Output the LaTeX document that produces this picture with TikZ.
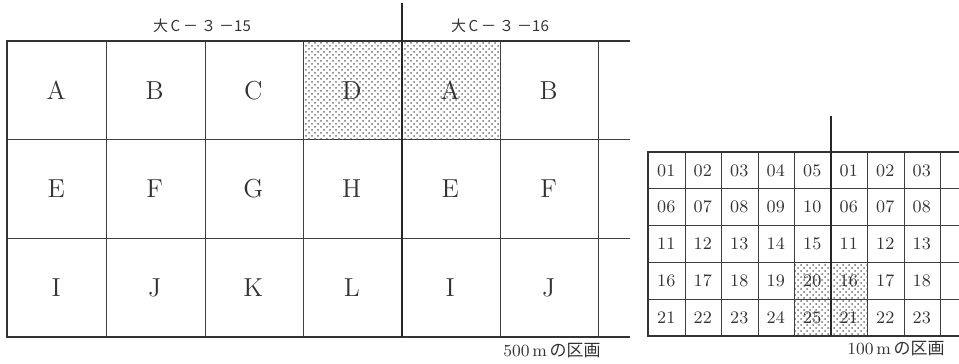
\documentclass[tikz,border=0pt]{standalone}
\usepackage{fontspec}
\newfontfamily\jpfont{Noto Sans CJK JP}
\usetikzlibrary{patterns}
\tikzset{
  cellline/.style={draw=black!75, line width=0.45pt},
  outline/.style={draw=black!80, line width=0.65pt},
  border/.style={draw=black!85, line width=1pt},
  shaded/.style={pattern=crosshatch dots, pattern color=black!55},
  bigcell/.style={font=\fontsize{13}{15}\selectfont, text=black!80},
  smallcell/.style={font=\fontsize{8.8}{10}\selectfont, text=black!80},
  blocktitle/.style={font=\jpfont\fontsize{7.5}{9}\selectfont, text=black!80},
  caption/.style={font=\fontsize{8.5}{10}\selectfont, text=black!80},
}

\begin{document}
\begin{tikzpicture}[x=0.5pt,y=-0.5pt]
  \useasboundingbox (0,0) rectangle (959,364);
  % 500m grid
  \fill[shaded] (303,41) rectangle (500,139);
  \foreach \y in {41,139,238,337}
    \draw[cellline] (7,\y) -- (630,\y);
  \foreach \x in {106,205,303,500,598}
    \draw[cellline] (\x,41) -- (\x,337);
  \draw[outline] (630,41) -- (7,41) -- (7,337) -- (630,337);
  \draw[border] (402,3) -- (402,337);
  \foreach \t [count=\i from 0] in {A,B,C,D,A,B,E,F,G,H,E,F,I,J,K,L,I,J} {
    \pgfmathtruncatemacro\c{mod(\i,6)}
    \pgfmathtruncatemacro\r{div(\i,6)}
    \node[bigcell] (big\i) at ({7+98.5*(\c+0.5)}, {41+98.7*(\r+0.5)}) {\t};
  }
  \node[blocktitle] (title15) at (202,26) {大\,C\hspace{0.2em}－\hspace{0.2em}３\hspace{0.2em}－15};
  \node[blocktitle] (title16) at (500,26) {大\,C\hspace{0.2em}－\hspace{0.2em}３\hspace{0.2em}－16};
  \node[caption] (cap500) at (552,351) {500\,m\,{\jpfont の区画}};

  % 100m grid
  \fill[shaded] (794.5,262.4) rectangle (867.5,336);
  \foreach \y in {152,188.8,225.6,262.4,299.2,336}
    \draw[cellline] (648,\y) -- (959,\y);
  \foreach \x in {685,721.5,758,794.5,867.5,904,940.5}
    \draw[cellline] (\x,152) -- (\x,336);
  \draw[outline] (959,152) -- (648,152) -- (648,336) -- (959,336);
  \draw[border] (831,116) -- (831,336);
  \foreach \r in {0,...,4} {
    \foreach \c in {0,...,7} {
      \ifnum\c<5
        \pgfmathtruncatemacro\n{5*\r+\c+1}
      \else
        \pgfmathtruncatemacro\n{5*\r+\c-4}
      \fi
      \node[smallcell] (small\r\c) at ({648+36.5*(\c+0.5)}, {152+36.8*(\r+0.5)})
        {\ifnum\n<10 0\fi\n};
    }
  }
  \node[caption] (cap100) at (896,349) {100\,m\,{\jpfont の区画}};
\end{tikzpicture}
\end{document}
